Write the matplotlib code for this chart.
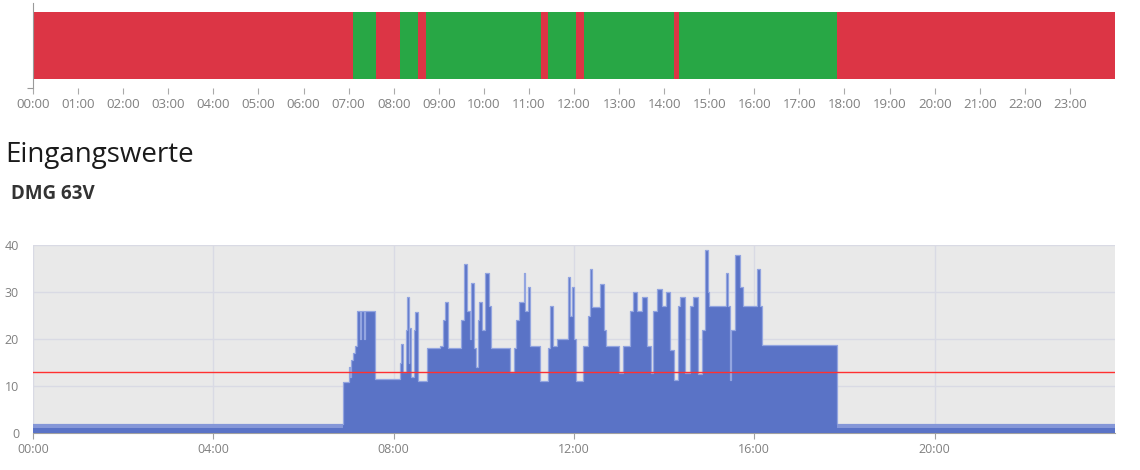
import numpy as np
import matplotlib
matplotlib.use('Agg')
import matplotlib.pyplot as plt

plt.rcParams['font.family'] = ['Open Sans', 'DejaVu Sans']

# status bar segments (hours) and state (1 = ok / green, 0 = red)
seg_start = [0.0, 7.09, 7.60, 8.15, 8.54, 8.71, 11.27, 11.42, 12.04, 12.22, 14.21, 14.33, 17.83]
seg_end = [7.09, 7.60, 8.15, 8.54, 8.71, 11.27, 11.42, 12.04, 12.22, 14.21, 14.33, 17.83, 24.0]
seg_state = [0, 1, 0, 1, 0, 1, 0, 1, 0, 1, 0, 1, 0]

hour_labels = ['%02d:00' % h for h in range(24)]

# input values DMG 63V (step breakpoints, hours -> value)
times = [0.0, 6.88, 7.0, 7.03, 7.05, 7.1, 7.15, 7.18, 7.26, 7.28, 7.35, 7.37, 7.59,
         8.14, 8.17, 8.21, 8.28, 8.30, 8.33, 8.35, 8.38, 8.45, 8.47, 8.53,
         8.73, 9.03, 9.10, 9.14, 9.21, 9.50, 9.55, 9.62, 9.69, 9.72, 9.79, 9.83,
         9.86, 9.90, 9.96, 10.02, 10.12, 10.16, 10.58, 10.66, 10.72, 10.77, 10.88,
         10.92, 10.97, 11.02, 11.25, 11.43, 11.47, 11.53, 11.62, 11.86, 11.92, 11.95,
         12.0, 12.04, 12.19, 12.30, 12.35, 12.40, 12.58, 12.66, 12.72, 13.0, 13.09,
         13.24, 13.30, 13.40, 13.50, 13.61, 13.70, 13.75, 13.85, 13.95, 14.05, 14.13,
         14.22, 14.31, 14.36, 14.46, 14.57, 14.65, 14.75, 14.83, 14.91, 14.97, 15.0,
         15.38, 15.42, 15.46, 15.49, 15.57, 15.68, 15.75, 16.05, 16.12, 16.16, 17.83, 24.0]
values = [1.9, 10.9, 14.0, 12.0, 15.5, 17.0, 18.5, 26.0, 20.0, 26.0, 20.0, 26.0, 11.5,
          15.0, 19.0, 13.0, 22.0, 29.0, 15.0, 22.3, 12.0, 22.0, 25.8, 11.0,
          18.0, 18.5, 24.0, 27.9, 18.0, 24.0, 36.0, 25.9, 20.0, 32.0, 18.0, 14.0,
          24.0, 27.9, 22.0, 34.0, 27.0, 18.0, 13.0, 18.0, 24.0, 27.9, 34.1,
          26.0, 31.0, 18.5, 11.1, 18.0, 27.0, 18.5, 20.0, 33.1, 25.0, 31.0,
          20.0, 11.1, 18.5, 25.0, 35.0, 26.9, 31.8, 22.0, 18.5, 12.8, 18.5,
          26.0, 29.9, 26.0, 29.0, 18.5, 12.8, 26.0, 30.6, 27.0, 30.0, 17.7,
          11.3, 27.0, 28.9, 12.8, 27.0, 29.0, 12.5, 22.0, 38.9, 30.0, 27.0,
          34.0, 27.0, 11.3, 22.0, 37.9, 31.0, 27.0, 35.0, 27.0, 18.7, 1.9, 1.9]
night_floor = 1.1
threshold = 13.0

fig = plt.figure(figsize=(11.4, 4.7), dpi=100)

# status bar
ax1 = fig.add_axes([33 / 1140, 1 - 88 / 470, 1082 / 1140, 85 / 470])
colors = {0: '#dc3545', 1: '#28a745'}
for s, e, st in zip(seg_start, seg_end, seg_state):
    ax1.barh(0.5, e - s, left=s, height=0.79, color=colors[st], edgecolor='none')
ax1.set_xlim(0, 24)
ax1.set_ylim(0, 1)
ax1.set_xticks(range(24))
ax1.set_xticklabels(hour_labels)
ax1.set_yticks([0])
ax1.set_yticklabels([''])
for sp in ['top', 'right', 'bottom']:
    ax1.spines[sp].set_visible(False)
ax1.spines['left'].set_color('#9a9a9a')
ax1.tick_params(axis='x', length=4, color='#aaaaaa', labelsize=9.5, labelcolor='#808080', pad=3)
ax1.tick_params(axis='y', length=4, color='#9a9a9a')

fig.text(5 / 1140, 1 - 155 / 470, 'Eingangswerte', fontsize=20, va='center', color='#1a1a1a')
fig.text(11 / 1140, 1 - 194 / 470, 'DMG 63V', fontsize=13.5, fontweight='bold', va='center', color='#333333')

# values chart
ax2 = fig.add_axes([33 / 1140, 1 - 433 / 470, 1082 / 1140, 188 / 470])
ax2.set_facecolor('#e9e9e9')
t = np.array(times)
v = np.array(values)
ax2.fill_between(t, 0, v, step='post', color='#5a73c6', lw=0, zorder=3)
ax2.step(t, v, where='post', color='#93a5e0', lw=0.9, zorder=3)
# lighter band at the low night level
for i in range(len(t) - 1):
    if v[i] < 2.5:
        ax2.fill_between([t[i], t[i + 1]], night_floor, v[i], color='#8597d8', lw=0, zorder=4)
ax2.axhline(threshold, color='#ff3030', lw=1.0, zorder=5)
ax2.set_xlim(0, 24)
ax2.set_ylim(0, 40)
ax2.set_yticks([0, 10, 20, 30, 40])
ax2.set_xticks([0, 4, 8, 12, 16, 20])
ax2.set_xticklabels(['00:00', '04:00', '08:00', '12:00', '16:00', '20:00'])
ax2.grid(True, color='#d9dae4', lw=1.0, zorder=1)
ax2.set_axisbelow(True)
for sp in ['top', 'right', 'left']:
    ax2.spines[sp].set_visible(False)
ax2.spines['bottom'].set_color('#a0a0a0')
ax2.tick_params(axis='y', length=0, labelsize=9, labelcolor='#808080', pad=10)
ax2.tick_params(axis='x', length=4, color='#a0a0a0', labelsize=9, labelcolor='#808080', pad=3)

plt.savefig('out.png', dpi=100)
